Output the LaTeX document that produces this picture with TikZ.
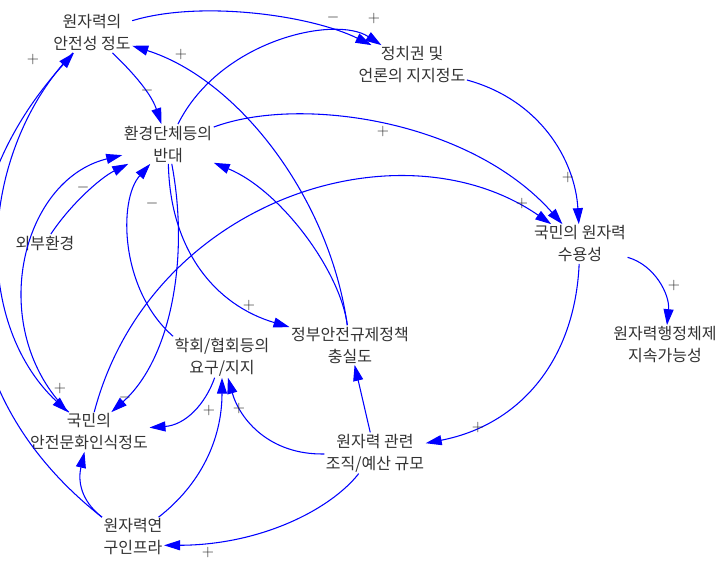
\documentclass[tikz,border=0pt]{standalone}
\usepackage{fontspec}
\newfontfamily\kr{Noto Sans CJK KR}
\usetikzlibrary{arrows.meta}
\definecolor{txtgray}{RGB}{50,50,50}
\definecolor{linkblue}{RGB}{0,0,255}
\tikzset{
  var/.style={font=\kr\fontsize{12pt}{16.5pt}\selectfont, text=txtgray, align=center, inner sep=1pt},
  pol/.style={font=\fontsize{13pt}{15pt}\selectfont, text=black!85, inner sep=0pt},
  link/.style={draw=linkblue, line width=0.8pt, -{Triangle[length=12pt,width=7.5pt]}, fill=none}
}
\begin{document}
\begin{tikzpicture}[x=0.75pt,y=-0.75pt]
\path[use as bounding box, fill=white] (0,0) rectangle (723,563);
\clip (0,0) rectangle (723,563);
% variables
\node[var] (A) at (92,33) {원자력의\\안전성 정도};
\node[var] (B) at (412,65) {정치권 및\\언론의 지지정도};
\node[var] (C) at (168,144) {환경단체등의\\반대};
\node[var] (D) at (45,243) {외부환경};
\node[var] (E) at (580,244) {국민의 원자력\\수용성};
\node[var] (F) at (665,345) {원자력행정체제\\지속가능성};
\node[var] (G) at (350,345) {정부안전규제정책\\충실도};
\node[var] (H) at (222,357) {학회/협회등의\\요구/지지};
\node[var] (I) at (89,432) {국민의\\안전문화인식정도};
\node[var] (J) at (375,453) {원자력 관련\\조직/예산 규모};
\node[var] (K) at (133,537) {원자력연\\구인프라};
% links
\draw[link] (A) .. controls (200,0) and (310,15) .. (B);
\draw[link] (C) .. controls (220,40) and (335,15) .. (B);
\draw[link] (A) .. controls (125,65) and (150,90) .. (C);
\draw[link] (G) .. controls (330,200) and (240,80) .. (A);
\draw[link] (G) .. controls (340,270) and (280,190) .. (C);
\draw[link] (C) .. controls (300,95) and (470,120) .. (E);
\draw[link] (I) .. controls (150,200) and (400,120) .. (E);
\draw[link] (B) .. controls (540,100) and (575,160) .. (E);
\draw[link] (E) .. controls (655,265) and (670,295) .. (F);
\draw[link] (E) .. controls (575,360) and (520,425) .. (J);
\draw[link] (J) -- (G);
\draw[link] (J) .. controls (270,455) and (240,420) .. (H);
\draw[link] (K) .. controls (200,485) and (222,440) .. (H);
\draw[link] (H) .. controls (205,405) and (185,425) .. (I);
\draw[link] (C) .. controls (170,250) and (215,305) .. (G);
\draw[link] (C) .. controls (190,260) and (170,360) .. (I);
\draw[link] (H.north west) .. controls (120,290) and (118,200) .. (C);
\draw[link] (D) .. controls (70,205) and (100,178) .. (C);
\draw[link] (I) .. controls (-15,330) and (20,180) .. (C);
\draw[link] (A) .. controls (-20,150) and (-30,320) .. (I);
\draw[link] (K.north west) .. controls (-60,390) and (-60,200) .. (A);
\draw[link] (K.north west) .. controls (80,500) and (78,480) .. (I);
\draw[link] (J) .. controls (330,510) and (260,545) .. (K.-15);
% polarities
\node[pol] (p1) at (33,60) {$+$};
\node[pol] (p2) at (181,55) {$+$};
\node[pol] (p3) at (333,18) {$-$};
\node[pol] (p4) at (374,19) {$+$};
\node[pol] (p5) at (147,91) {$-$};
\node[pol] (p6) at (383,132) {$+$};
\node[pol] (p7) at (83,187) {$-$};
\node[pol] (p8) at (152,203) {$-$};
\node[pol] (p9) at (522,203) {$+$};
\node[pol] (p10) at (568,177) {$+$};
\node[pol] (p11) at (674,285) {$+$};
\node[pol] (p12) at (249,305) {$+$};
\node[pol] (p13) at (60,388) {$+$};
\node[pol] (p14) at (125,397) {$-$};
\node[pol] (p15) at (209,410) {$+$};
\node[pol] (p16) at (239,408) {$+$};
\node[pol] (p17) at (478,427) {$+$};
\node[pol] (p18) at (208,552) {$+$};
\end{tikzpicture}
\end{document}
